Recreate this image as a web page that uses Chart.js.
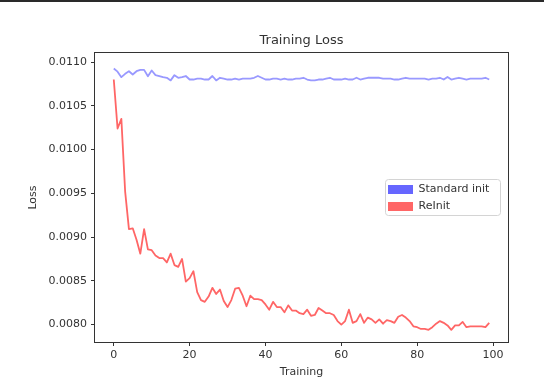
<!DOCTYPE html>
<html>
<head>
<meta charset="utf-8">
<script src="https://cdn.jsdelivr.net/npm/chart.js@4.4.0/dist/chart.umd.min.js"></script>
<style>
  html, body { margin: 0; padding: 0; background: #fff; }
</style>
</head>
<body>
<canvas id="lossChart" width="544" height="380"></canvas>
<script>
// training steps (x axis) and the two loss curves
const steps = Array.from({ length: 100 }, (_, i) => i);

const standardInit = [
  0.010926, 0.01089, 0.010827, 0.010865, 0.010895, 0.010857, 0.010895, 0.01091, 0.01091, 0.010838,
  0.010903, 0.01085, 0.01084, 0.010827, 0.01082, 0.01079, 0.01085, 0.01082, 0.010827, 0.01084,
  0.0108, 0.0108, 0.01081, 0.01081, 0.0108, 0.0108, 0.01084, 0.01079, 0.01082, 0.01081,
  0.0108, 0.0108, 0.01081, 0.0108, 0.01081, 0.01081, 0.01081, 0.01082, 0.01084, 0.01082,
  0.0108, 0.0108, 0.01081, 0.01081, 0.0108, 0.01081, 0.0108, 0.0108, 0.01081, 0.01081,
  0.01082, 0.0108, 0.01079, 0.01079, 0.0108, 0.0108, 0.01081, 0.01082, 0.0108, 0.0108,
  0.0108, 0.01081, 0.0108, 0.0108, 0.01082, 0.0108, 0.01081, 0.01082, 0.01082, 0.01082,
  0.01082, 0.01081, 0.01081, 0.01081, 0.0108, 0.0108, 0.01081, 0.01082, 0.01081, 0.01081,
  0.01081, 0.01081, 0.01081, 0.0108, 0.01081, 0.01081, 0.01082, 0.0108, 0.01083, 0.0108,
  0.01081, 0.01082, 0.01081, 0.0108, 0.01081, 0.01081, 0.01081, 0.01081, 0.01082, 0.0108
];

const reInit = [
  0.01080, 0.01024, 0.01035, 0.00952, 0.00909, 0.00910, 0.00897, 0.00881, 0.00909, 0.00886,
  0.00885, 0.00879, 0.00876, 0.00876, 0.00871, 0.00881, 0.00868, 0.00866, 0.00875, 0.00849,
  0.00853, 0.00861, 0.00837, 0.00828, 0.00826, 0.00832, 0.00842, 0.00835, 0.00840, 0.00827,
  0.00820, 0.00828, 0.00841, 0.00842, 0.00833, 0.00821, 0.00833, 0.00829, 0.00829, 0.00828,
  0.00823, 0.00817, 0.00826, 0.00820, 0.00820, 0.00814, 0.00822, 0.00816, 0.00816, 0.00813,
  0.00812, 0.00817, 0.00810, 0.00811, 0.00819, 0.00816, 0.00813, 0.00813, 0.00811, 0.00804,
  0.00800, 0.00804, 0.00817, 0.00802, 0.00804, 0.00812, 0.00802, 0.00808, 0.00806, 0.00802,
  0.00806, 0.00801, 0.00805, 0.00804, 0.00802, 0.00809, 0.00811, 0.00808, 0.00804, 0.00798,
  0.00797, 0.00795, 0.00795, 0.00794, 0.00797, 0.00801, 0.00804, 0.00802, 0.00799, 0.00794,
  0.00799, 0.00799, 0.00803, 0.00797, 0.00798, 0.00798, 0.00798, 0.00798, 0.00797, 0.00802
];

const seriesLabels = ["Standard init", "ReInit"];
const xTicks = [0, 20, 40, 60, 80, 100];
const yTicks = [0.0080, 0.0085, 0.0090, 0.0095, 0.0100, 0.0105, 0.0110];

const lineColors = ["#9999ff", "#ff6666"];
const patchColors = ["#6666ff", "#ff6666"];
const textColor = "#333";

Chart.defaults.font.family = "'DejaVu Sans', sans-serif";
Chart.defaults.color = textColor;

// axes box, legend frame and the dark strip along the top of the picture
const framePlugin = {
  id: "frame",
  afterLayout(chart) {
    const lg = chart.legend;
    lg.left = 382;
    lg.top = 178;
    lg.right = 512;
    lg.bottom = 230;
  },
  afterDraw(chart) {
    const ctx = chart.ctx;
    const ca = chart.chartArea;
    ctx.save();
    ctx.fillStyle = "#2a2a2a";
    ctx.fillRect(0, 0, 544, 2);
    ctx.strokeStyle = "#333";
    ctx.lineWidth = 1;
    ctx.strokeRect(ca.left - 0.5, ca.top - 0.5, ca.right - ca.left + 1, ca.bottom - ca.top + 1);
    ctx.strokeStyle = "#d4d4d4";
    ctx.beginPath();
    ctx.roundRect(385.5, 179.5, 115, 36, 3);
    ctx.stroke();
    ctx.restore();
  }
};

const ctx = document.getElementById("lossChart").getContext("2d");
const lossChart = new Chart(ctx, {
  type: "line",
  data: {
    datasets: [
      {
        label: seriesLabels[0],
        data: steps.map((s, i) => ({ x: s, y: standardInit[i] })),
        borderColor: lineColors[0],
        backgroundColor: patchColors[0],
        borderWidth: 1.8,
        pointRadius: 0,
        tension: 0,
        fill: false,
        borderJoinStyle: "round"
      },
      {
        label: seriesLabels[1],
        data: steps.map((s, i) => ({ x: s, y: reInit[i] })),
        borderColor: lineColors[1],
        backgroundColor: patchColors[1],
        borderWidth: 1.8,
        pointRadius: 0,
        tension: 0,
        fill: false,
        borderJoinStyle: "round"
      }
    ]
  },
  options: {
    responsive: false,
    animation: false,
    layout: { padding: { left: 0, right: 36, top: 0, bottom: 0 } },
    scales: {
      x: {
        type: "linear",
        min: -4.95,
        max: 103.95,
        afterBuildTicks: (scale) => { scale.ticks = xTicks.map(v => ({ value: v })); },
        afterFit: (scale) => { scale.height = 38; },
        grid: { drawOnChartArea: false, drawTicks: true, tickLength: 4, color: "#333" },
        border: { display: false },
        ticks: { font: { size: 11 }, color: textColor, padding: 3, maxRotation: 0 },
        title: { display: true, text: "Training", font: { size: 11 }, color: textColor, padding: { top: 0, bottom: 1 } }
      },
      y: {
        type: "linear",
        min: 0.007801,
        max: 0.011103,
        afterBuildTicks: (scale) => { scale.ticks = yTicks.map(v => ({ value: v })); },
        afterFit: (scale) => { scale.width = 95; },
        grid: { drawOnChartArea: false, drawTicks: true, tickLength: 4, color: "#333" },
        border: { display: false },
        ticks: {
          font: { size: 11 },
          color: textColor,
          padding: 4,
          callback: (v) => v.toFixed(4)
        },
        title: { display: true, text: "Loss", font: { size: 11 }, color: textColor, padding: { top: 27, bottom: 0 } }
      }
    },
    plugins: {
      title: {
        display: true,
        text: "Training Loss",
        fullSize: false,
        color: textColor,
        font: { size: 13, weight: "normal" },
        padding: { top: 33, bottom: 4.4 }
      },
      legend: {
        position: "chartArea",
        align: "start",
        labels: {
          font: { size: 11 },
          color: textColor,
          boxWidth: 25,
          boxHeight: 9,
          padding: 6,
          generateLabels: (chart) => chart.data.datasets.map((ds, i) => ({
            text: ds.label,
            fillStyle: patchColors[i],
            strokeStyle: patchColors[i],
            lineWidth: 0,
            fontColor: textColor,
            hidden: false,
            datasetIndex: i
          }))
        }
      },
      tooltip: { enabled: false }
    }
  },
  plugins: [framePlugin]
});
</script>
</body>
</html>
